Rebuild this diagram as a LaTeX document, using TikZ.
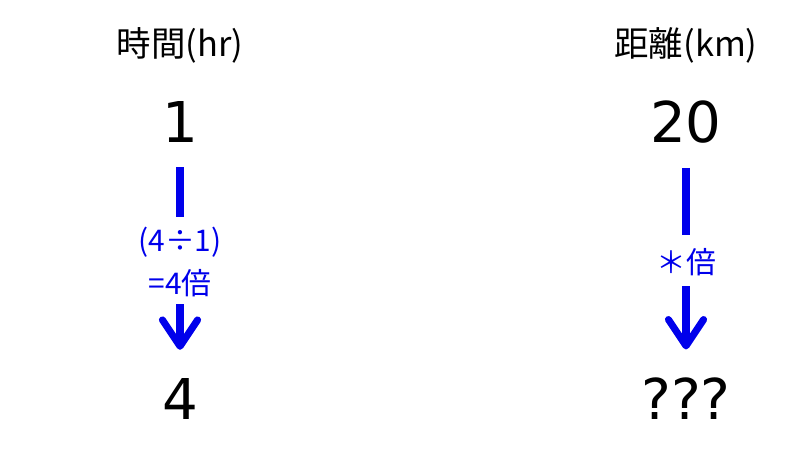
\documentclass[tikz,border=0pt]{standalone}
\usepackage{fontspec}
\setmainfont{DejaVu Sans}
\newfontfamily\cjk{Noto Sans CJK JP}
\usepackage{tikz}
\usetikzlibrary{arrows.meta, positioning}
\definecolor{myblue}{RGB}{0,0,235}

\begin{document}
\begin{tikzpicture}[
    head/.style={font=\cjk\fontsize{9.8}{12}\selectfont, inner sep=0pt},
    num/.style={font=\fontsize{16}{19}\selectfont, inner sep=0pt},
    ratio/.style={myblue, font=\cjk\fontsize{8.5}{10}\selectfont, inner sep=0pt, align=center},
    bar/.style={myblue, line width=2pt, shorten <=0.24cm, shorten >=0.13cm},
    barrow/.style={myblue, line width=2pt, shorten <=0.10cm, shorten >=0.28cm,
        -{Straight Barb[length=7.5pt,width=10pt,round]}}
]
    % page frame
    \useasboundingbox (0,0) rectangle (8,4.5);

    % Column headers
    \node[head] (hTime) at (1.80,4.05) {時間(hr)};
    \node[head] (hDist) at (6.86,4.05) {距離(km)};

    % Known values
    \node[num] (t1) at (1.80,3.28) {1};
    \node[num] (d1) at (6.86,3.28) {20};

    % Bottom values
    \node[num] (t2) at (1.80,0.51) {4};
    \node[num] (d2) at (6.86,0.51) {???};

    % Ratio labels
    \node[ratio] (rTime) at (1.80,1.88) {(4÷1)\\[2pt]=4倍};
    \node[ratio] (rDist) at (6.86,1.88) {＊倍};

    % Left column: line and arrow
    \draw[bar, shorten >=0.10cm] (t1) -- (rTime);
    \draw[barrow, shorten <=0.07cm] (rTime) -- (t2);

    % Right column: line and arrow
    \draw[bar] (d1) -- (rDist);
    \draw[barrow] (rDist) -- (d2);
\end{tikzpicture}
\end{document}
